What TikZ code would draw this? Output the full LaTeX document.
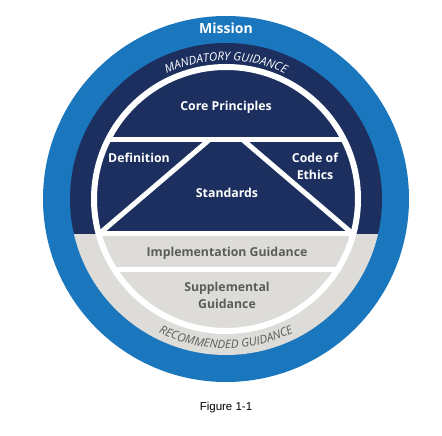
\documentclass[tikz,border=0pt]{standalone}
\usepackage{fontspec}
\setmainfont{Open Sans}
\newfontfamily\figfont{Liberation Sans}
\usetikzlibrary{decorations.text}
\definecolor{ringblue}{HTML}{1A76BD}
\definecolor{navyblue}{HTML}{1C2F5E}
\definecolor{rgray}{HTML}{DDDCD8}
\definecolor{txtgray}{HTML}{5B5B5B}
\begin{document}
\begin{tikzpicture}[x=1pt,y=1pt,
  lbl/.style={font=\bfseries\fontsize{12.3}{17}\selectfont, text=white, align=center, inner sep=0pt},
  glbl/.style={lbl, text=txtgray},
  sep/.style={white, line width=5pt}]
\useasboundingbox (0,0) rectangle (442,436);
\coordinate (C) at (226,237);
% outer rings
\fill[ringblue] (C) circle (183);
\begin{scope}
  \clip (C) circle (156);
  \fill[navyblue] (40,202) rectangle (420,400);
  \fill[rgray] (40,202) rectangle (420,60);
\end{scope}
% inner dividers
\begin{scope}
  \clip (C) circle (132);
  \draw[sep] (80,296) -- (380,296);
  \draw[sep] (80,202) -- (380,202);
  \draw[sep] (80,166) -- (380,166);
  \draw[sep] (209,296) -- (95,198.6);
  \draw[sep] (243,296) -- (357,198.6);
\end{scope}
\draw[white, line width=6pt] (C) circle (132);
% curved labels
\path[decorate, decoration={text along path, text align=center, text color=white,
  text={|\itshape\fontsize{11.6}{13}\selectfont|MANDATORY GUIDANCE}}]
  ([shift={(150:138.5)}]C) arc (150:30:138.5);
\path[decorate, decoration={text along path, text align=center, text color=txtgray,
  text={|\itshape\fontsize{11.6}{13}\selectfont|RECOMMENDED GUIDANCE}}]
  ([shift={(210:149.5)}]C) arc (210:330:149.5);
% labels
\node[lbl, font=\bfseries\fontsize{14}{16}\selectfont] (mission) at (226,408) {Mission};
\node[lbl] (core) at (226,329) {Core Principles};
\node[lbl] (def) at (139,278) {Definition};
\node[lbl] (ethics) at (315,270) {Code of\\Ethics};
\node[lbl] (std) at (227,243) {Standards};
\node[glbl] (impl) at (227,183) {Implementation Guidance};
\node[glbl] (supp) at (227,140.5) {Supplemental\\Guidance};
\node[font=\figfont\fontsize{11.5}{13}\selectfont, text=black] (fig) at (226,28) {Figure 1-1};
\end{tikzpicture}
\end{document}
